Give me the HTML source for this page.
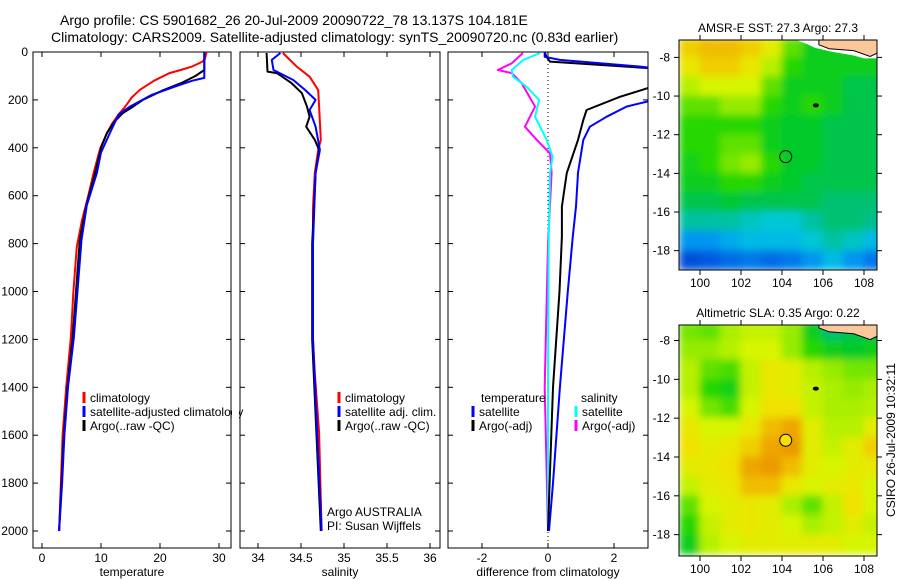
<!DOCTYPE html>
<html><head><meta charset="utf-8"><style>
body{margin:0;background:#fff;}
svg{display:block;font-family:"Liberation Sans",sans-serif;}
</style></head><body>
<svg id="fig" width="900" height="580" viewBox="0 0 900 580" xmlns="http://www.w3.org/2000/svg">
<defs>
<filter id="blur" x="-10%" y="-10%" width="120%" height="120%"><feGaussianBlur stdDeviation="4"/></filter>
<clipPath id="c1"><rect x="33" y="52" width="198" height="496"/></clipPath>
<clipPath id="c2"><rect x="240" y="52" width="200" height="496"/></clipPath>
<clipPath id="c3"><rect x="448" y="52" width="200" height="496"/></clipPath>
<clipPath id="cm1"><rect x="679" y="40" width="198" height="230"/></clipPath>
<clipPath id="cm2"><rect x="679" y="325" width="198" height="231"/></clipPath>
</defs>
<text x="60" y="25" font-size="14">Argo profile: CS 5901682_26 20-Jul-2009 20090722_78 13.137S 104.181E</text>
<text x="51" y="42" font-size="14">Climatology: CARS2009. Satellite-adjusted climatology: synTS_20090720.nc (0.83d earlier)</text>
<g id="root"></g>
</svg>
<script>
// ---- profile data ----
const tDepth = [0,30,40,60,75,88,120,158,190,228,260,298,340,400,500,605,700,813,1006,1190,1400,1600,1800,2000];
const tClim  = [27.9,27.6,27.2,25.5,23.5,21.6,19.0,16.6,15.2,14.1,13.0,11.9,11.0,9.9,8.8,7.8,6.8,5.9,5.3,4.9,4.1,3.5,3.2,2.9];
const tArgoDepth = [0,75,100,130,160,200,230,255,290,338,400,505,640,785,1190,1400,1600,1800,2000];
const tArgo = [27.5,27.5,26.0,23.6,20.5,17.1,15.3,13.7,12.3,11.0,10.0,9.0,7.5,6.4,5.2,4.3,3.7,3.3,2.9];
const tSatDepth = [0,108,120,142,180,228,260,338,420,505,640,785,1190,1400,1600,1800,2000];
const tSat = [27.5,27.5,25.5,22.8,18.5,14.9,13.0,11.5,10.0,9.3,7.6,6.7,5.4,4.4,3.8,3.4,2.9];

const sDepth = [4,61,103,159,228,367,409,505,647,1200,1340,1590,2000];
const sClim = [34.29,34.45,34.60,34.70,34.71,34.73,34.70,34.66,34.64,34.64,34.66,34.71,34.74];
const sArgoDepth = [4,82,88,130,172,228,270,312,367,409,505,800,1200,1600,2000];
const sArgo = [34.10,34.11,34.22,34.39,34.51,34.57,34.60,34.56,34.66,34.71,34.67,34.63,34.63,34.68,34.73];
const sSatDepth = [4,33,75,117,159,200,242,312,409,505,800,1200,1600,2000];
const sSat = [34.26,34.16,34.18,34.41,34.55,34.67,34.60,34.67,34.72,34.67,34.64,34.64,34.69,34.74];

const dTSatDepth = [0,20,33,61,90,150,207,228,270,312,367,505,645,770,1000,1400,1800,2000];
const dTSat = [-0.1,-0.1,0.36,2.8,4.5,4.5,3.0,2.38,1.78,1.27,1.07,0.91,0.85,0.75,0.6,0.36,0.15,0.03];
const dTArgoDepth = [0,20,40,67,100,150,187,242,284,367,505,645,770,1000,1400,1800,2000];
const dTArgo = [-0.1,-0.05,0.06,3.0,4.5,3.05,2.18,1.17,1.07,0.91,0.57,0.42,0.42,0.35,0.15,0.05,0.0];
const dSSatDepth = [4,33,75,103,145,200,270,367,437,505,800,1400,2000];
const dSSat = [-0.24,-0.75,-1.1,-1.06,-0.65,-0.27,-0.39,-0.04,0.14,0.06,0.02,0.0,0.0];
const dSArgoDepth = [4,47,75,88,130,228,312,367,423,505,800,1400,2000];
const dSArgo = [-0.76,-1.1,-1.52,-1.1,-0.8,-0.39,-0.7,-0.34,0.06,0.11,0.0,-0.1,0.0];

// ---- map data (rows -7.5 .. -18.5 deg, cols 99.5 .. 108.5 deg) ----
const sstGrid = [
[0.85,0.88,0.88,0.85,0.78,0.6,0.5,0.5,0.5,0.5],
[0.8,0.85,0.85,0.8,0.7,0.55,0.5,0.5,0.5,0.5],
[0.7,0.75,0.75,0.75,0.6,0.5,0.5,0.5,0.45,0.45],
[0.6,0.6,0.65,0.65,0.55,0.5,0.55,0.5,0.45,0.45],
[0.55,0.55,0.55,0.55,0.5,0.48,0.48,0.45,0.45,0.45],
[0.55,0.55,0.6,0.6,0.5,0.48,0.48,0.45,0.45,0.45],
[0.52,0.55,0.62,0.65,0.55,0.48,0.48,0.45,0.45,0.45],
[0.5,0.5,0.55,0.55,0.5,0.48,0.45,0.45,0.45,0.45],
[0.45,0.45,0.47,0.45,0.45,0.45,0.45,0.42,0.42,0.42],
[0.38,0.38,0.38,0.35,0.33,0.33,0.38,0.42,0.42,0.4],
[0.25,0.25,0.28,0.3,0.3,0.3,0.33,0.38,0.35,0.3],
[0.12,0.15,0.18,0.2,0.18,0.2,0.25,0.3,0.25,0.2]];
const slaGrid = [
[0.62,0.6,0.68,0.72,0.72,0.65,0.5,0.42,0.45,0.45],
[0.65,0.65,0.7,0.75,0.75,0.65,0.55,0.5,0.48,0.5],
[0.7,0.6,0.58,0.72,0.8,0.78,0.7,0.65,0.62,0.62],
[0.7,0.55,0.52,0.72,0.8,0.78,0.72,0.68,0.65,0.68],
[0.75,0.62,0.58,0.75,0.82,0.82,0.72,0.68,0.68,0.7],
[0.8,0.75,0.75,0.8,0.88,0.92,0.78,0.7,0.7,0.78],
[0.82,0.78,0.8,0.85,0.92,0.95,0.78,0.72,0.78,0.85],
[0.78,0.8,0.82,0.92,0.95,0.88,0.78,0.75,0.78,0.8],
[0.72,0.78,0.8,0.88,0.88,0.8,0.75,0.78,0.8,0.75],
[0.6,0.75,0.78,0.8,0.78,0.68,0.6,0.72,0.82,0.75],
[0.55,0.72,0.78,0.8,0.78,0.75,0.68,0.72,0.78,0.72],
[0.5,0.7,0.75,0.78,0.78,0.78,0.78,0.78,0.75,0.75]];
const argoLon = 104.181, argoLat = -13.137;
const depthTicks = [0,200,400,600,800,1000,1200,1400,1600,1800,2000];
const tTicks = [0,10,20,30];
const sTicks = [34,34.5,35,35.5,36];
const dTicks = [-2,0,2];
const lonTicks = [100,102,104,106,108];
const latTicks = [-8,-10,-12,-14,-16,-18];

const NS = "http://www.w3.org/2000/svg";
const root = document.getElementById('root');
function mk(tag, attrs, parent, txt){
  const e = document.createElementNS(NS, tag);
  for (const k in attrs) e.setAttribute(k, attrs[k]);
  if (txt !== undefined) e.textContent = txt;
  (parent||root).appendChild(e);
  return e;
}
const Y = d => 52 + d*0.2395;
function lin(d0,d1,r0,r1){ return v => r0 + (v-d0)/(d1-d0)*(r1-r0); }

function panel(x0, x1, xs, xticks, xfmt, title, clip, name){
  const g = mk('g', {});
  
  
  const fr = mk('rect', {x:x0, y:52, width:x1-x0, height:496, fill:'none', stroke:'#000', 'stroke-width':1}, g);
  
  
  for (const t of xticks){
    const x = xs(t);
    mk('line', {x1:x, x2:x, y1:52, y2:57, stroke:'#000'}, g);
    mk('line', {x1:x, x2:x, y1:548, y2:543, stroke:'#000'}, g);
    const tl = mk('text', {x:x, y:562, 'font-size':12, 'text-anchor':'middle'}, g, xfmt(t));
    
    
  }
  for (const d of depthTicks){
    mk('line', {x1:x0, x2:x0+5, y1:Y(d), y2:Y(d), stroke:'#000'}, g);
    mk('line', {x1:x1, x2:x1-5, y1:Y(d), y2:Y(d), stroke:'#000'}, g);
  }
  const at = mk('text', {x:(x0+x1)/2, y:576, 'font-size':12, 'text-anchor':'middle'}, g, title);
  
  
  const cg = mk('g', {'clip-path':'url(#'+clip+')'}, g);
  return cg;
}
function line(g, xs, vals, depths, color, name, w){
  const pts = vals.map((v,i)=> xs(v).toFixed(1)+','+Y(depths[i]).toFixed(1)).join(' ');
  const p = mk('polyline', {points:pts, fill:'none', stroke:color, 'stroke-width':w||2, 'stroke-linejoin':'round'}, g);
  
  
}
for (const d of depthTicks){
  const t = mk('text', {x:28, y:Y(d)+4, 'font-size':12, 'text-anchor':'end'}, root, String(d));
  
  
}
const xT = lin(0,30,42,219);
const g1 = panel(33,231,xT,tTicks,String,'temperature','c1','temperature-panel');
line(g1,xT,tClim,tDepth,'#f00','temperature-climatology-line');
line(g1,xT,tArgo,tArgoDepth,'#000','temperature-argo-line');
line(g1,xT,tSat,tSatDepth,'#00f','temperature-satellite-line');
const xS = lin(34,36,258,430);
const g2 = panel(240,440,xS,sTicks,String,'salinity','c2','salinity-panel');
line(g2,xS,sClim,sDepth,'#f00','salinity-climatology-line');
line(g2,xS,sArgo,sArgoDepth,'#000','salinity-argo-line');
line(g2,xS,sSat,sSatDepth,'#00f','salinity-satellite-line');
const xD = lin(-2,2,482,614);
const g3 = panel(448,648,xD,dTicks,String,'difference from climatology','c3','difference-panel');
mk('line',{x1:xD(0),x2:xD(0),y1:52,y2:548,stroke:'#000','stroke-dasharray':'1,3'},g3);
line(g3,xD,dSArgo,dSArgoDepth,'#f0f','salinity-diff-argo-line');
line(g3,xD,dSSat,dSSatDepth,'#0ff','salinity-diff-satellite-line');
line(g3,xD,dTArgo,dTArgoDepth,'#000','temperature-diff-argo-line');
line(g3,xD,dTSat,dTSatDepth,'#00f','temperature-diff-satellite-line');

function legItem(x,y,color,label,name){
  const g = mk('g',{});
  
  
  mk('line',{x1:x,x2:x,y1:y-10,y2:y+1,stroke:color,'stroke-width':3},g);
  if(label) mk('text',{x:x+6,y:y,'font-size':12},g,label);
}
legItem(84,402,'#f00','climatology','legend-temp-climatology');
legItem(84,416,'#00f','satellite-adjusted climatology','legend-temp-satellite');
legItem(84,430,'#000','Argo(..raw -QC)','legend-temp-argo');
mk('rect',{x:232,y:404,width:7,height:16,fill:'#fff'});
legItem(339,402,'#f00','climatology','legend-sal-climatology');
legItem(339,416,'#00f','satellite adj. clim.','legend-sal-satellite');
legItem(339,430,'#000','Argo(..raw -QC)','legend-sal-argo');
mk('text',{x:327,y:516,'font-size':12},root,'Argo AUSTRALIA');
mk('text',{x:327,y:530,'font-size':12},root,'PI: Susan Wijffels');
mk('text',{x:481,y:402,'font-size':12},root,'temperature');
mk('text',{x:581,y:402,'font-size':12},root,'salinity');
legItem(473,416,'#00f','satellite','legend-diff-temp-satellite');
legItem(473,430,'#000','Argo(-adj)','legend-diff-temp-argo');
legItem(576,416,'#0ff','satellite','legend-diff-sal-satellite');
legItem(576,430,'#f0f','Argo(-adj)','legend-diff-sal-argo');

const stops = [[0,[0,40,170]],[0.15,[0,90,225]],[0.25,[0,150,240]],[0.32,[0,200,225]],[0.4,[0,190,140]],[0.47,[0,200,50]],[0.55,[40,215,0]],[0.65,[150,235,0]],[0.75,[215,245,0]],[0.82,[240,225,0]],[0.9,[240,175,0]],[1,[230,130,0]]];
function cmap(v){
  for(let i=1;i<stops.length;i++){ if(v<=stops[i][0]){ const a=stops[i-1],b=stops[i],t=(v-a[0])/(b[0]-a[0]);
    return 'rgb('+a[1].map((c,k)=>Math.round(c+(b[1][k]-c)*t)).join(',')+')'; } }
  return 'rgb(230,130,0)';
}
function mapPanel(top, bot, latTop, latBot, grid, clip, title, name, circleFill, missing){
  const xL = lin(100,108,700,864), yL = lin(latTop,latBot,top,bot);
  const g = mk('g',{});
  
  
  const cg = mk('g',{'clip-path':'url(#'+clip+')'},g);
  const hg = mk('g',{filter:'url(#blur)'},cg);
  grid.forEach((row,r)=>row.forEach((v,c)=>{
    const lon0 = 99 + c, lat0 = -7 - r;
    const x = xL(lon0), y = yL(lat0);
    const cell = mk('rect',{x:x-0.5,y:y-0.5,width:xL(lon0+1)-x+1,height:yL(lat0-1)-y+1,fill:cmap(v)},hg);
    
    
  }));
  if (missing){
    const mp = [[104.7,-6],[104.7,-7.1],[105.2,-7.3],[105.6,-7.5],[106.4,-7.7],[107.5,-7.9],[108,-8.05],[109.5,-8.05],[109.5,-6]];
    const w = mk('polygon',{points:mp.map(p=>xL(p[0])+','+yL(p[1])).join(' '),fill:'#fff'},cg);
    
    
  }
  const pts = [[105.8,-6],[105.8,-7.35],[106.3,-7.55],[107.5,-7.65],[108.3,-7.95],[108.7,-7.75],[109.5,-7.8],[109.5,-6]];
  const land = mk('polygon',{points:pts.map(p=>xL(p[0])+','+yL(p[1])).join(' '),fill:'#fcc89b',stroke:'#000','stroke-width':1},cg);
  
  
  mk('ellipse',{cx:xL(105.65),cy:yL(-10.48),rx:3,ry:2,fill:'#000'},cg);
  const circ = mk('circle',{cx:xL(argoLon),cy:yL(argoLat),r:6,fill:circleFill,stroke:'#000','stroke-width':1},cg);
  
  
  mk('rect',{x:679,y:top,width:198,height:bot-top,fill:'none',stroke:'#000'},g);
  for(const t of lonTicks){ const x=xL(t);
    mk('line',{x1:x,x2:x,y1:top,y2:top-5,stroke:'#000'},g);
    mk('line',{x1:x,x2:x,y1:bot,y2:bot+5,stroke:'#000'},g);
    mk('text',{x:x,y:bot+17,'font-size':12,'text-anchor':'middle'},g,String(t)); }
  for(const t of latTicks){ const y=yL(t);
    mk('line',{x1:679,x2:674,y1:y,y2:y,stroke:'#000'},g);
    mk('line',{x1:877,x2:882,y1:y,y2:y,stroke:'#000'},g);
    mk('text',{x:670,y:y+4,'font-size':12,'text-anchor':'end'},g,String(t)); }
  const tt = mk('text',{x:778,y:top-8,'font-size':12,'text-anchor':'middle'},g,title);
  
  
}
mapPanel(40,270,-7.1,-19.0,sstGrid,'cm1','AMSR-E SST: 27.3 Argo: 27.3','sst-map','none',true);
mapPanel(325,556,-7.2,-19.1,slaGrid,'cm2','Altimetric SLA: 0.35 Argo: 0.22','sla-map','#f5e000',false);
const ct = mk('text',{x:0,y:0,'font-size':12,'text-anchor':'middle',transform:'translate(895,440) rotate(-90)'},root,'CSIRO 26-Jul-2009 10:32:11');


</script>
</body></html>
